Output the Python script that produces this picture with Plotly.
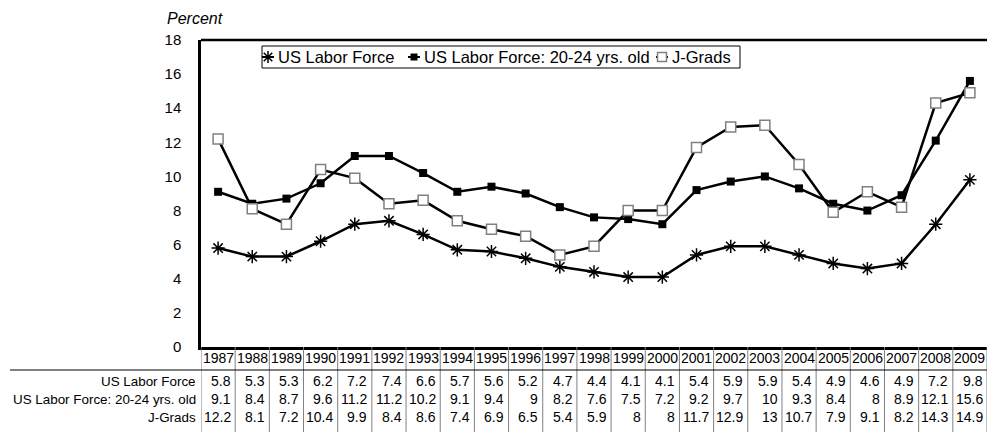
import plotly.graph_objects as go

years = [str(y) for y in range(1987, 2010)]
us_labor = [5.8, 5.3, 5.3, 6.2, 7.2, 7.4, 6.6, 5.7, 5.6, 5.2, 4.7, 4.4, 4.1, 4.1, 5.4, 5.9, 5.9, 5.4, 4.9, 4.6, 4.9, 7.2, 9.8]
us_2024 = [9.1, 8.4, 8.7, 9.6, 11.2, 11.2, 10.2, 9.1, 9.4, 9, 8.2, 7.6, 7.5, 7.2, 9.2, 9.7, 10, 9.3, 8.4, 8, 8.9, 12.1, 15.6]
jgrads = [12.2, 8.1, 7.2, 10.4, 9.9, 8.4, 8.6, 7.4, 6.9, 6.5, 5.4, 5.9, 8, 8, 11.7, 12.9, 13, 10.7, 7.9, 9.1, 8.2, 14.3, 14.9]
series_names = ["US Labor Force", "US Labor Force: 20-24 yrs. old", "J-Grads"]
y_ticks = [0, 2, 4, 6, 8, 10, 12, 14, 16, 18]

FONT = "Liberation Sans, Arial, sans-serif"
OFF = 8                      # browser body margin
W, H = 995 - 2 * OFF, 440 - 2 * OFF
PL, PR, PT, PB = 201, 987, 40, 347   # plot area in page pixels
L, T = PL - OFF, PT - OFF
R = W - (PR - OFF)
B = H - (PB - OFF)
PW = PR - PL
PH = PB - PT

def px(xpix):
    return (xpix - PL) / PW

def py(ypix):
    return (PB - ypix) / PH

marker_styles = [
    dict(symbol="asterisk-open", size=11, color="black", line=dict(color="black", width=1.5)),
    dict(symbol="square", size=8, color="black", line=dict(color="black", width=0)),
    dict(symbol="square", size=10, color="white", line=dict(color="#808080", width=1.5)),
]

xs = list(range(len(years)))
fig = go.Figure()
for vals, name, ms in zip([us_labor, us_2024, jgrads], series_names, marker_styles):
    fig.add_trace(go.Scatter(x=xs, y=vals, name=name, mode="lines+markers",
                             line=dict(color="black", width=2.5), marker=ms,
                             showlegend=False, cliponaxis=False))

annotations = []
shapes = []
TAB_FS = 14
# year row
for i, yv in enumerate(years):
    annotations.append(dict(x=i, y=py(358), xref="x", yref="paper", text=yv, showarrow=False,
                            font=dict(family=FONT, size=TAB_FS, color="black"),
                            xanchor="center", yanchor="middle"))
rows = [us_labor, us_2024, jgrads]
row_y = [381, 399, 417]
for r, (vals, yp) in enumerate(zip(rows, row_y)):
    annotations.append(dict(x=px(198), y=py(yp), xref="paper", yref="paper", text=series_names[r],
                            showarrow=False, font=dict(family=FONT, size=13.4, color="black"),
                            xanchor="right", yanchor="middle"))
    for i, v in enumerate(vals):
        annotations.append(dict(x=i + 0.43, y=py(yp), xref="x", yref="paper", text=f"{v:g}",
                                showarrow=False, font=dict(family=FONT, size=TAB_FS, color="black"),
                                xanchor="right", yanchor="middle"))
# table grid lines
for i in range(len(years) + 1):
    shapes.append(dict(type="line", xref="x", yref="paper", x0=i - 0.5, x1=i - 0.5,
                       y0=py(347), y1=py(440 - OFF), line=dict(color="#808080", width=1)))
shapes.append(dict(type="line", xref="paper", yref="paper", x0=px(OFF + 2), x1=px(PR),
                   y0=py(370), y1=py(370), line=dict(color="black", width=1)))
# top border
shapes.append(dict(type="line", xref="paper", yref="paper", x0=0, x1=1, y0=1, y1=1,
                   line=dict(color="black", width=2.5)))

# custom legend (page-pixel layout)
LEG_FS = 16.5
leg_box = (262, 740, 46, 68)
leg_marker_x = [268, 414, 662]
leg_text_x = [276, 422, 670]
leg_y = 57
shapes.append(dict(type="rect", xref="paper", yref="paper", x0=px(leg_box[0]), x1=px(leg_box[1]),
                   y0=py(leg_box[3]), y1=py(leg_box[2]), line=dict(color="black", width=1),
                   fillcolor="white", layer="below"))
for mx in leg_marker_x:
    shapes.append(dict(type="line", xref="paper", yref="paper", x0=px(mx - 6), x1=px(mx + 6),
                       y0=py(leg_y), y1=py(leg_y), line=dict(color="black", width=2), layer="below"))
for name, tx in zip(series_names, leg_text_x):
    annotations.append(dict(x=px(tx), y=py(leg_y), xref="paper", yref="paper", text=name,
                            showarrow=False, font=dict(family=FONT, size=LEG_FS, color="black"),
                            xanchor="left", yanchor="middle"))
# legend markers on an overlay axis measured in page pixels
for mx, ms in zip(leg_marker_x, marker_styles):
    ms2 = dict(ms)
    if ms2["symbol"] == "square" and ms2["color"] == "black":
        ms2["size"] = 7
    else:
        ms2["size"] = ms2["size"] - 1
    fig.add_trace(go.Scatter(x=[mx], y=[leg_y], xaxis="x2", yaxis="y2", mode="markers",
                             marker=ms2, showlegend=False, hoverinfo="skip", cliponaxis=False))

annotations.append(dict(x=px(165), y=py(OFF), xref="paper", yref="paper", text="<i>Percent</i>",
                        showarrow=False, font=dict(family=FONT, size=16, color="black"),
                        xanchor="left", yanchor="top"))

fig.update_layout(
    width=W, height=H,
    margin=dict(l=L, r=R, t=T, b=B),
    paper_bgcolor="white", plot_bgcolor="white",
    font=dict(family=FONT, color="black"),
    showlegend=False,
    xaxis=dict(range=[-0.5, len(years) - 0.5], showticklabels=False, showgrid=False,
               zeroline=False, showline=True, linecolor="black", linewidth=2.5, ticks=""),
    yaxis=dict(range=[0, 18], tickvals=y_ticks, showgrid=False, zeroline=False,
               showline=True, linecolor="black", linewidth=2.5, ticks="",
               tickfont=dict(family=FONT, size=15, color="black"), ticklabelstandoff=14),
    xaxis2=dict(range=[PL, PR], overlaying="x", visible=False, fixedrange=True),
    yaxis2=dict(range=[PB, PT], overlaying="y", visible=False, fixedrange=True),
    annotations=annotations,
    shapes=shapes,
)

fig.write_html("out.html")
